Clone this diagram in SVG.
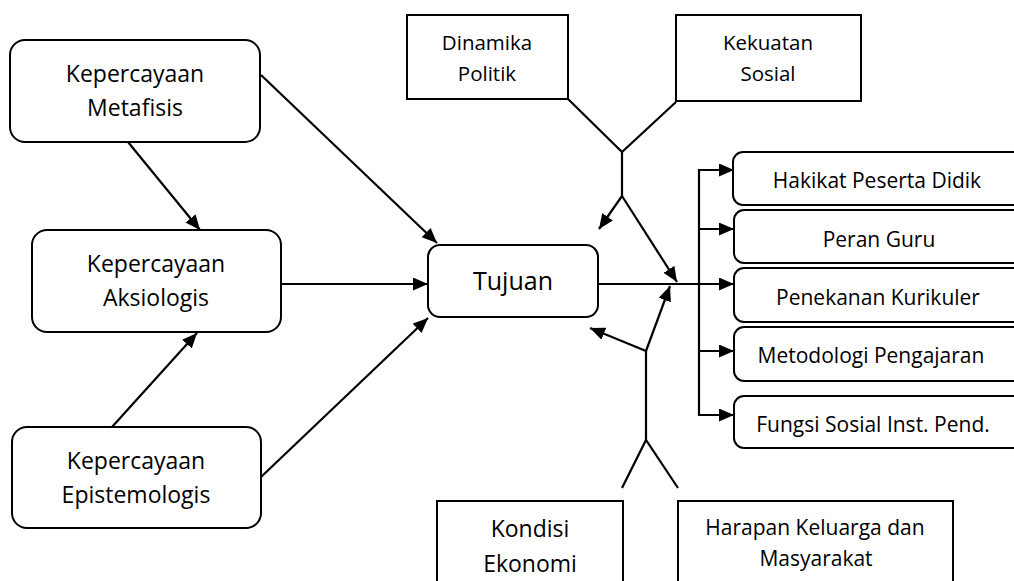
<svg xmlns="http://www.w3.org/2000/svg" width="1014" height="581" viewBox="0 0 1014 581">
<defs>
<marker id="ah" markerUnits="userSpaceOnUse" markerWidth="16" markerHeight="14" refX="15" refY="6.5" orient="auto">
<path d="M0,0 L15,6.5 L0,13 z" fill="#000"/>
</marker>
<style>
.box{fill:#fff;stroke:#000;stroke-width:2}
.t{font-family:"Open Sans","Noto Sans",sans-serif;fill:#000;text-anchor:middle}
.big{font-size:23px}
.mid{font-size:21px}
.sm{font-size:20.5px}
.c{fill:none;stroke:#000;stroke-width:2.2}
.a{marker-end:url(#ah)}
</style>
</defs>
<rect width="1014" height="581" fill="#fff"/>
<g id="connectors">
<line class="c a" x1="261" y1="75" x2="437" y2="243"/>
<line class="c a" x1="128" y1="142" x2="200" y2="230"/>
<line class="c a" x1="281" y1="284" x2="428" y2="284"/>
<line class="c a" x1="112" y1="427" x2="197" y2="333"/>
<line class="c a" x1="261" y1="477" x2="428" y2="318"/>
<polyline class="c" points="568,99 622,152 676,102"/>
<line class="c" x1="622" y1="152" x2="622" y2="196"/>
<line class="c a" x1="622" y1="196" x2="599" y2="229"/>
<line class="c a" x1="622" y1="196" x2="677" y2="282"/>
<line class="c a" x1="597" y1="284" x2="734" y2="284"/>
<polyline class="c a" points="699,284 699,170 734,170"/>
<line class="c a" x1="699" y1="229" x2="734" y2="229"/>
<polyline class="c a" points="699,284 699,415 734,415"/>
<line class="c a" x1="699" y1="351" x2="734" y2="351"/>
<line class="c" x1="646" y1="351" x2="646" y2="440"/>
<polyline class="c" points="622,488 646,440 678,488"/>
<line class="c a" x1="646" y1="351" x2="670" y2="286"/>
<line class="c a" x1="646" y1="351" x2="590" y2="328"/>
</g>
<g id="metafisis">
<rect class="box" x="10" y="40" width="250" height="102" rx="15"/>
<text class="t big" x="135" y="82">Kepercayaan</text>
<text class="t big" x="135" y="116">Metafisis</text>
</g>
<g id="aksiologis">
<rect class="box" x="32" y="230" width="249" height="102" rx="15"/>
<text class="t big" x="156" y="272">Kepercayaan</text>
<text class="t big" x="156" y="306">Aksiologis</text>
</g>
<g id="epistemologis">
<rect class="box" x="12" y="427" width="249" height="101" rx="15"/>
<text class="t big" x="136" y="469">Kepercayaan</text>
<text class="t big" x="136" y="503">Epistemologis</text>
</g>
<g id="tujuan">
<rect class="box" x="428" y="245" width="170" height="72" rx="12"/>
<text class="t" style="font-size:25px" x="513" y="290">Tujuan</text>
</g>
<g id="dinamika">
<rect class="box" x="407" y="15" width="161" height="84"/>
<text class="t sm" x="487" y="50">Dinamika</text>
<text class="t sm" x="487" y="81">Politik</text>
</g>
<g id="kekuatan">
<rect class="box" x="676" y="15" width="185" height="86"/>
<text class="t sm" x="768" y="50">Kekuatan</text>
<text class="t sm" x="768" y="81">Sosial</text>
</g>
<g id="hakikat">
<rect class="box" x="733" y="152" width="300" height="53" rx="10"/>
<text class="t mid" x="877" y="188">Hakikat Peserta Didik</text>
</g>
<g id="peran">
<rect class="box" x="734" y="210" width="300" height="53" rx="10"/>
<text class="t mid" x="879" y="247">Peran Guru</text>
</g>
<g id="penekanan">
<rect class="box" x="734" y="268" width="300" height="54" rx="10"/>
<text class="t mid" x="878" y="305">Penekanan Kurikuler</text>
</g>
<g id="metodologi">
<rect class="box" x="734" y="327" width="300" height="54" rx="10"/>
<text class="t mid" x="871" y="363">Metodologi Pengajaran</text>
</g>
<g id="fungsi">
<rect class="box" x="734" y="396" width="300" height="52" rx="10"/>
<text class="t mid" x="873" y="432">Fungsi Sosial Inst. Pend.</text>
</g>
<g id="kondisi">
<rect class="box" x="437" y="501" width="186" height="100"/>
<text class="t big" x="530" y="537">Kondisi</text>
<text class="t big" x="530" y="572">Ekonomi</text>
</g>
<g id="harapan">
<rect class="box" x="678" y="501" width="275" height="100"/>
<text class="t mid" x="815" y="535">Harapan Keluarga dan</text>
<text class="t mid" x="816" y="566">Masyarakat</text>
</g>
</svg>
